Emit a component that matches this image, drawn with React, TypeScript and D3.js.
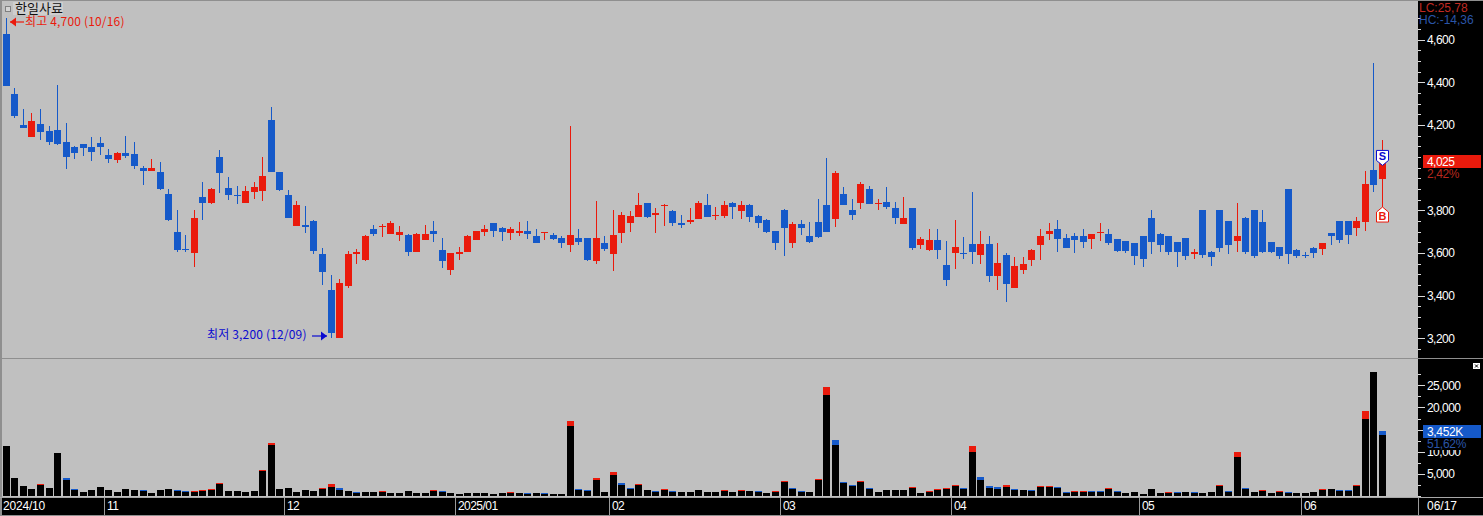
import React, { useEffect, useRef } from 'react';
import * as d3 from 'd3';

const title = '한일사료';

const opens = [
  4625, 4345, 4200, 4145, 4205, 4170, 4175, 4120, 4095, 4110,
  4095, 4115, 4060, 4035, 4070, 4065, 4000, 3985, 3980, 3875,
  3700, 3620, 3600, 3860, 3835, 4050, 3905, 3870, 3835, 3885,
  3890, 4225, 3980, 3870, 3725, 3730, 3750, 3595, 3425, 3200,
  3445, 3595, 3565, 3710, 3720, 3690, 3685, 3685, 3605, 3660,
  3705, 3615, 3520, 3595, 3605, 3660, 3700, 3740, 3715, 3695,
  3695, 3705, 3680, 3695, 3685, 3670, 3635, 3670, 3670, 3560,
  3645, 3595, 3695, 3740, 3770, 3835, 3780, 3820, 3795, 3740,
  3745, 3760, 3825, 3775, 3775, 3835, 3795, 3825, 3775, 3755,
  3705, 3800, 3645, 3735, 3680, 3745, 3825, 3760, 3875, 3800,
  3835, 3900, 3830, 3840, 3810, 3735, 3810, 3635, 3615, 3660,
  3545, 3600, 3600, 3640, 3590, 3640, 3490, 3590, 3435, 3520,
  3565, 3635, 3690, 3710, 3670, 3680, 3680, 3665, 3695, 3690,
  3665, 3655, 3645, 3680, 3765, 3690, 3680, 3650, 3670, 3595,
  3800, 3605, 3800, 3750, 3655, 3765, 3800, 3745, 3650, 3630,
  3900, 3615, 3590, 3625, 3620, 3695, 3750, 3750, 3715, 3745, 3990, 3945,
];
const highs = [
  4700, 4375, 4275, 4255, 4275, 4195, 4385, 4210, 4100, 4110,
  4145, 4145, 4085, 4075, 4150, 4120, 4005, 4040, 4025, 3900,
  3800, 3685, 3800, 3930, 3905, 4080, 3955, 3915, 3915, 3930,
  4050, 4285, 3980, 3895, 3845, 3820, 3755, 3625, 3495, 3480,
  3610, 3620, 3685, 3730, 3735, 3750, 3725, 3690, 3695, 3730,
  3750, 3670, 3600, 3630, 3685, 3705, 3730, 3740, 3720, 3720,
  3745, 3750, 3710, 3700, 3695, 3680, 4195, 3710, 3670, 3845,
  3680, 3800, 3790, 3795, 3880, 3835, 3810, 3830, 3800, 3780,
  3810, 3845, 3875, 3815, 3845, 3840, 3845, 3830, 3780, 3760,
  3705, 3805, 3745, 3755, 3745, 3855, 4045, 3985, 3910, 3855,
  3930, 3915, 3855, 3910, 3840, 3860, 3810, 3675, 3710, 3710,
  3655, 3755, 3675, 3885, 3705, 3680, 3645, 3600, 3580, 3580,
  3620, 3710, 3740, 3755, 3690, 3695, 3710, 3690, 3740, 3710,
  3665, 3655, 3645, 3680, 3800, 3695, 3680, 3650, 3670, 3620,
  3800, 3610, 3800, 3750, 3835, 3770, 3800, 3800, 3650, 3630,
  3900, 3620, 3605, 3630, 3645, 3695, 3750, 3750, 3770, 3985, 4490, 4130,
];
const lows = [
  4380, 4230, 4185, 4145, 4130, 4105, 4105, 3995, 4040, 4055,
  4030, 4060, 4020, 4020, 4045, 3995, 3920, 3985, 3895, 3750,
  3605, 3605, 3535, 3755, 3830, 3880, 3850, 3830, 3835, 3855,
  3845, 3980, 3890, 3765, 3725, 3695, 3595, 3450, 3200, 3200,
  3435, 3550, 3560, 3680, 3675, 3690, 3655, 3585, 3605, 3660,
  3650, 3530, 3495, 3565, 3605, 3660, 3680, 3675, 3655, 3660,
  3680, 3665, 3645, 3660, 3660, 3625, 3605, 3635, 3560, 3550,
  3610, 3515, 3645, 3700, 3770, 3765, 3695, 3725, 3725, 3715,
  3735, 3760, 3770, 3755, 3765, 3760, 3760, 3745, 3715, 3695,
  3615, 3585, 3625, 3685, 3645, 3670, 3700, 3720, 3825, 3755,
  3805, 3830, 3800, 3805, 3735, 3735, 3615, 3620, 3610, 3570,
  3445, 3525, 3570, 3550, 3550, 3465, 3425, 3370, 3435, 3500,
  3540, 3565, 3660, 3605, 3625, 3600, 3625, 3620, 3655, 3635,
  3605, 3600, 3545, 3535, 3595, 3605, 3590, 3535, 3565, 3570,
  3575, 3540, 3605, 3595, 3605, 3595, 3575, 3600, 3600, 3570,
  3550, 3575, 3575, 3575, 3590, 3635, 3645, 3640, 3680, 3705, 3885, 3815,
];
const closes = [
  4380, 4240, 4185, 4220, 4165, 4120, 4110, 4050, 4070, 4090,
  4075, 4095, 4040, 4070, 4055, 4005, 3985, 4000, 3900, 3755,
  3615, 3615, 3765, 3835, 3900, 3975, 3870, 3865, 3890, 3910,
  3960, 3980, 3895, 3765, 3825, 3720, 3610, 3510, 3225, 3460,
  3595, 3605, 3680, 3690, 3725, 3740, 3700, 3605, 3690, 3690,
  3690, 3560, 3600, 3605, 3680, 3705, 3710, 3705, 3700, 3710,
  3705, 3690, 3645, 3700, 3665, 3645, 3685, 3650, 3565, 3670,
  3620, 3685, 3780, 3775, 3825, 3770, 3785, 3825, 3740, 3730,
  3755, 3835, 3770, 3780, 3825, 3815, 3825, 3770, 3740, 3700,
  3645, 3715, 3735, 3715, 3650, 3675, 3700, 3975, 3825, 3780,
  3925, 3830, 3835, 3815, 3765, 3765, 3625, 3665, 3660, 3615,
  3475, 3630, 3595, 3605, 3640, 3490, 3555, 3455, 3540, 3550,
  3615, 3680, 3705, 3665, 3625, 3660, 3650, 3690, 3700, 3645,
  3610, 3610, 3585, 3570, 3650, 3635, 3605, 3605, 3585, 3605,
  3590, 3580, 3625, 3635, 3680, 3605, 3585, 3605, 3605, 3585,
  3595, 3585, 3585, 3600, 3645, 3680, 3660, 3685, 3750, 3925, 3920, 4025,
];

// black part of the volume bars
const volumes = [
  11400, 4100, 2280, 1600, 2500, 1820, 9800, 3650, 1370, 910,
  1370, 2050, 1370, 910, 1600, 1370, 1140, 680, 1370, 1600,
  1140, 910, 910, 1140, 1370, 2740, 1140, 1140, 910, 1140,
  5700, 11630, 1600, 1820, 910, 1370, 1140, 1600, 2050, 1370,
  1140, 680, 910, 910, 910, 680, 680, 1140, 680, 680,
  1140, 910, 680, 460, 680, 680, 680, 460, 680, 680,
  680, 460, 680, 460, 460, 460, 15730, 1370, 1140, 3650,
  910, 4790, 2510, 1600, 2510, 1370, 910, 1370, 910, 910,
  910, 1370, 910, 910, 1140, 910, 1140, 1140, 910, 680,
  910, 3190, 1600, 910, 910, 3650, 22800, 11630, 2960, 2280,
  3190, 1600, 910, 1370, 1370, 1370, 1820, 680, 910, 1370,
  1600, 2280, 1600, 10030, 3650, 1820, 1600, 2050, 1370, 1370,
  1140, 2050, 2050, 1820, 680, 910, 910, 910, 910, 1600,
  910, 680, 910, 460, 1600, 680, 680, 680, 910, 680,
  680, 910, 2280, 910, 8890, 1600, 910, 1140, 680, 910,
  680, 680, 680, 910, 1370, 1600, 1140, 1140, 2280, 17330, 28000, 13680,
];
// coloured cap on top of each bar: positive is red, negative is blue
const volumeCaps = [
  0, 0, 0, 0, 230, 0, 0, -450, -230, 0,
  0, 0, 0, 0, 0, 0, -230, 0, 0, 0,
  -230, -230, 230, 230, 230, 230, 0, 0, 0, 0,
  230, 230, 0, 0, 0, 0, 0, 230, 690, -450,
  0, -230, 0, 0, 230, 0, 0, 0, 0, 0,
  230, -230, 0, 0, 0, 0, 0, 0, 0, 230,
  0, -230, 0, -230, 0, 0, 1140, -230, -230, 450,
  0, 680, -450, -230, 230, 0, -230, 230, -230, 0,
  0, 0, 0, 0, 230, 0, 230, 0, -230, 0,
  230, 230, -230, -230, 0, 230, 1820, -910, -230, -230,
  230, -230, 0, 0, 0, 0, 230, 0, 230, 230,
  230, 230, -230, 1370, -680, -450, -450, 450, -230, 0,
  -230, 230, 230, -230, -230, 230, 230, -230, -230, 230,
  -230, 0, 0, 0, 0, 0, 230, -230, 0, -230,
  0, 0, 230, -230, 1140, -230, 0, 230, 0, 230,
  -230, 0, 0, 0, 230, 0, -230, -230, 230, 1820, 0, -910,
];

const monthStarts = [12, 33, 53, 71, 91, 111, 133, 152];
const monthLabels = ['11', '12', '2025/01', '02', '03', '04', '05', '06'];
// 4,000 sits behind the current price box in the original, so it gets only a tick
const priceLabels = [3200, 3400, 3600, 3800, 4200, 4400, 4600];
const priceMinor = d3.range(3150, 4701, 50);
const volumeLabels = [5000, 10000, 15000, 20000, 25000];
const volumeMinor = d3.range(0, 27501, 2500);

const RED = '#ea1a0c';
const BLUE = '#1559c9';
const GRAY = '#c0c0c0';
const NUM_FONT = '"Liberation Sans", Arial, sans-serif';
const KR_FONT = '"Noto Sans CJK KR", "Liberation Sans", sans-serif';

export default function App() {
  const ref = useRef<SVGSVGElement>(null);

  useEffect(() => {
    const svg = d3.select(ref.current);
    svg.selectAll('*').remove();

    const axisX = 1418;
    const x = d3.scaleBand<number>()
      .domain(d3.range(opens.length))
      .range([2.03, 2.03 + 8.547 * opens.length])
      .paddingInner(0.18)
      .paddingOuter(0.09);
    const y = d3.scaleLinear().domain([3200, 4600]).range([338.3, 39.5]);
    const yVol = d3.scaleLinear().domain([0, 25000]).range([496, 385.3]);

    svg.append('rect').attr('width', 1483).attr('height', 516).attr('fill', GRAY);
    svg.append('rect').attr('x', axisX).attr('width', 65).attr('height', 498).attr('fill', 'black');
    svg.append('rect').attr('y', 498).attr('width', 1483).attr('height', 17).attr('fill', 'black');

    // frame lines
    const frame = svg.append('g').attr('fill', '#8f8f8f').attr('shape-rendering', 'crispEdges');
    frame.append('rect').attr('width', 1483).attr('height', 1);
    frame.append('rect').attr('width', 2).attr('height', 516);
    frame.append('rect').attr('y', 358).attr('width', 1483).attr('height', 1);
    frame.append('rect').attr('y', 497).attr('width', 1483).attr('height', 1).attr('fill', '#a8a8a8');
    frame.append('rect').attr('y', 515).attr('width', 1483).attr('height', 1);

    // candles
    const idx = d3.range(opens.length);
    const bandW = 7;
    const left = (i: number) => Math.round(x(i) as number);
    const candles = svg.append('g').attr('shape-rendering', 'crispEdges');
    candles.selectAll('rect.wick')
      .data(idx)
      .enter()
      .append('rect')
      .attr('class', 'wick')
      .attr('x', i => left(i) + 3)
      .attr('y', i => y(highs[i]))
      .attr('width', 1)
      .attr('height', i => Math.max(1, y(lows[i]) - y(highs[i])))
      .attr('fill', i => (closes[i] >= opens[i] ? RED : BLUE));
    candles.selectAll('rect.body')
      .data(idx)
      .enter()
      .append('rect')
      .attr('class', 'body')
      .attr('x', i => left(i))
      .attr('y', i => y(Math.max(opens[i], closes[i])))
      .attr('width', bandW)
      .attr('height', i => Math.max(1, Math.abs(y(opens[i]) - y(closes[i]))))
      .attr('fill', i => (closes[i] >= opens[i] ? RED : BLUE));

    // volume bars
    const bars = svg.append('g').attr('shape-rendering', 'crispEdges');
    bars.selectAll('rect.cap')
      .data(idx.filter(i => volumeCaps[i] !== 0))
      .enter()
      .append('rect')
      .attr('class', 'cap')
      .attr('x', i => left(i))
      .attr('y', i => yVol(volumes[i] + Math.abs(volumeCaps[i])))
      .attr('width', bandW)
      .attr('height', i => yVol(volumes[i]) - yVol(volumes[i] + Math.abs(volumeCaps[i])))
      .attr('fill', i => (volumeCaps[i] > 0 ? RED : BLUE));
    bars.selectAll('rect.vol')
      .data(idx)
      .enter()
      .append('rect')
      .attr('class', 'vol')
      .attr('x', i => left(i))
      .attr('y', i => yVol(volumes[i]))
      .attr('width', bandW)
      .attr('height', i => yVol(0) - yVol(volumes[i]))
      .attr('fill', 'black');

    // axes, minor ticks then labelled ones
    const styleAxis = (g: any) => {
      g.select('.domain').remove();
      g.selectAll('line').attr('stroke', '#d8d8d8').attr('shape-rendering', 'crispEdges');
      g.selectAll('text')
        .attr('fill', 'white')
        .attr('font-family', NUM_FONT)
        .attr('font-size', 12)
        .attr('letter-spacing', -0.55);
    };
    svg.append('g')
      .attr('transform', `translate(${axisX},0)`)
      .call(d3.axisRight(y).tickValues(priceMinor).tickSize(3).tickFormat(() => ''))
      .call(styleAxis);
    svg.append('g')
      .attr('transform', `translate(${axisX},0)`)
      .call(d3.axisRight(y).tickValues(priceLabels).tickSize(7).tickPadding(2).tickFormat(d3.format(',')))
      .call(styleAxis);
    svg.append('g')
      .attr('transform', `translate(${axisX},0)`)
      .call(d3.axisRight(yVol).tickValues(volumeMinor).tickSize(3).tickFormat(() => ''))
      .call(styleAxis);
    svg.append('g')
      .attr('transform', `translate(${axisX},0)`)
      .call(d3.axisRight(yVol).tickValues(volumeLabels).tickSize(7).tickPadding(2).tickFormat(d3.format(',')))
      .call(styleAxis);

    const label = (tx: number, ty: number, s: string, fill: string, spacing = -0.55, font = NUM_FONT, size = 12) =>
      svg.append('text')
        .attr('x', tx)
        .attr('y', ty)
        .attr('fill', fill)
        .attr('font-family', font)
        .attr('font-size', size)
        .attr('letter-spacing', spacing)
        .text(s);

    // date axis
    const dates = svg.append('g').attr('shape-rendering', 'crispEdges');
    monthStarts.forEach((m, k) => {
      const mx = left(m) - 1;
      dates.append('rect').attr('x', mx).attr('y', 498).attr('width', 1).attr('height', 17).attr('fill', '#9a9a9a');
      label(mx + 3, 510, monthLabels[k], 'white');
    });
    dates.append('rect').attr('x', axisX).attr('y', 498).attr('width', 1).attr('height', 17).attr('fill', '#9a9a9a');
    label(3, 510, '2024/10', 'white', -0.2);
    label(1427, 510, '06/17', 'white', 0);

    // title
    svg.append('rect').attr('x', 13).attr('y', 2).attr('width', 50).attr('height', 13).attr('fill', '#cecece');
    svg.append('rect').attr('x', 5.5).attr('y', 6.5).attr('width', 5).attr('height', 5)
      .attr('fill', '#d4d4d4').attr('stroke', '#808080');
    label(15, 13, title, '#111', 0, KR_FONT, 13);

    // high and low notes
    const arrow = (x0: number, x1: number, ay: number, fill: string) => {
      const dir = x1 > x0 ? -1 : 1;
      svg.append('path')
        .attr('d', `M${x0},${ay}L${x1},${ay}`)
        .attr('stroke', fill)
        .attr('stroke-width', 1.2);
      svg.append('path')
        .attr('d', `M${x1},${ay}l${dir * 6},-4.5v9z`)
        .attr('fill', fill);
    };
    arrow(24, 10, 22, RED);
    label(25, 26, '최고 4,700 (10/16)', RED, 0.17, KR_FONT);
    label(207, 339, '최저 3,200 (12/09)', '#0a0ad0', 0.17, KR_FONT);
    arrow(312, 327, 336, '#0a0ad0');

    // sell and buy flags on the last candle
    const last = opens.length - 1;
    const cx = left(last) + 3.5;
    const sTip = y(4010);
    const bTip = y(3815);
    svg.append('path')
      .attr('d', `M${cx - 6},${sTip - 15}h12v10l-6,5l-6,-5z`)
      .attr('fill', 'white')
      .attr('stroke', '#0a0ad0')
      .attr('stroke-width', 1);
    svg.append('text')
      .attr('x', cx)
      .attr('y', sTip - 5)
      .attr('text-anchor', 'middle')
      .attr('fill', '#0a0ad0')
      .attr('font-family', NUM_FONT)
      .attr('font-weight', 'bold')
      .attr('font-size', 11)
      .text('S');
    svg.append('path')
      .attr('d', `M${cx},${bTip}l6,5v10h-12v-10z`)
      .attr('fill', 'white')
      .attr('stroke', RED)
      .attr('stroke-width', 1);
    svg.append('text')
      .attr('x', cx)
      .attr('y', bTip + 13)
      .attr('text-anchor', 'middle')
      .attr('fill', RED)
      .attr('font-family', NUM_FONT)
      .attr('font-weight', 'bold')
      .attr('font-size', 11)
      .text('B');

    // right hand read-outs
    label(1419, 12, 'LC:25,78', '#c02a22', 0);
    label(1419, 24, 'HC:-14,36', '#2a55a8', 0);

    svg.append('rect').attr('x', 1423).attr('y', 168).attr('width', 58).attr('height', 11).attr('fill', 'black');
    svg.append('rect').attr('x', 1423).attr('y', 155).attr('width', 58).attr('height', 13).attr('fill', RED);
    label(1427, 166, '4,025', 'white');
    label(1427, 178, '2,42%', '#b8281e', -0.4);

    svg.append('rect').attr('x', 1423).attr('y', 438).attr('width', 58).attr('height', 12).attr('fill', 'black');
    svg.append('rect').attr('x', 1423).attr('y', 425).attr('width', 58).attr('height', 13).attr('fill', BLUE);
    label(1427, 436, '3,452K', 'white', -0.35);
    label(1427, 448, '51,62%', '#2a55a8', -0.25);

    // small close box of the volume pane
    svg.append('rect').attr('x', 1473).attr('y', 363).attr('width', 7).attr('height', 6).attr('fill', 'white');
    svg.append('path').attr('d', 'M1475,364.5l3,3m0,-3l-3,3').attr('stroke', 'black').attr('stroke-width', 1);
  }, []);

  return (
    <svg
      ref={ref}
      width={1483}
      height={516}
      style={{ position: 'absolute', left: 0, top: 0, display: 'block' }}
    />
  );
}
